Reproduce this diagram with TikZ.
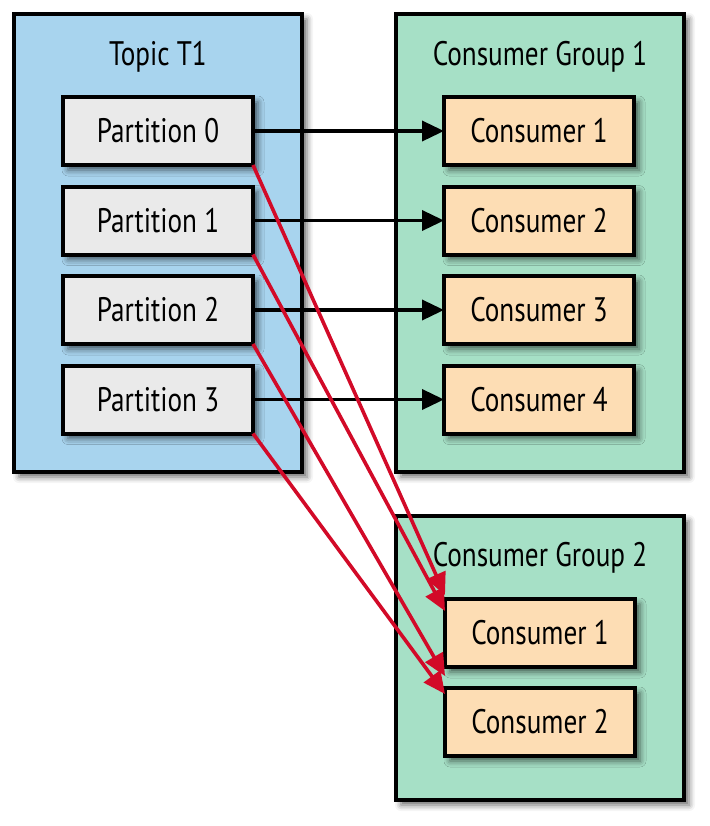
\documentclass[tikz,border=0pt]{standalone}
\usepackage{fontspec}
\setmainfont[FakeStretch=0.8]{PT Sans}
\usetikzlibrary{positioning,arrows.meta,shadows.blur}

\definecolor{topicblue}{RGB}{168,212,238}
\definecolor{groupgreen}{RGB}{166,224,198}
\definecolor{partgray}{RGB}{234,234,234}
\definecolor{consorange}{RGB}{253,221,180}
\definecolor{arrowred}{RGB}{210,10,40}

\begin{document}
\begin{tikzpicture}[
      x=1pt, y=1pt,
      shade/.style={blur shadow={shadow xshift=2.5pt,shadow yshift=-2.5pt,shadow blur radius=3pt,shadow opacity=60}},
      box/.style={draw, rectangle, line width=2pt, outer sep=0pt, minimum width=95pt, minimum height=34pt, shade},
      part/.style={box, fill=partgray},
      cons/.style={box, fill=consorange},
      group/.style={draw, rectangle, line width=2pt, outer sep=0pt, minimum width=144pt, shade},
      clear/.style={draw=none, fill=none, align=center},
      every node/.style={font=\fontsize{17}{20}\selectfont},
      every edge/.style={draw, -{Triangle[length=11pt,width=10pt]}, line width=1.8pt}
   ]
      \useasboundingbox (0,0) rectangle (355,-413);

      % boxes round the partitions and consumers
      \node[group, fill=topicblue, minimum height=229pt] (T) at (79,-121.5) {};
      \node[group, fill=groupgreen, minimum height=229pt, right=47pt of T] (G1) {};
      \node[group, fill=groupgreen, minimum height=142pt, below=22pt of G1] (G2) {};

      \node[clear] (TT) at ([yshift=-21.5pt]T.north) {Topic T1};
      \node[clear] (G1T) at ([yshift=-21.5pt]G1.north) {Consumer Group 1};
      \node[clear] (G2T) at ([yshift=-21pt]G2.north) {Consumer Group 2};

      % partitions
      \node[part] (P0) at (79,-65.5) {Partition 0};
      \node[part, below=10.75pt of P0] (P1) {Partition 1};
      \node[part, below=10.75pt of P1] (P2) {Partition 2};
      \node[part, below=10.75pt of P2] (P3) {Partition 3};

      % consumer group 1
      \node[cons, right=95.5pt of P0] (C1) {Consumer 1};
      \node[cons, right=95.5pt of P1] (C2) {Consumer 2};
      \node[cons, right=95.5pt of P2] (C3) {Consumer 3};
      \node[cons, right=95.5pt of P3] (C4) {Consumer 4};

      % consumer group 2
      \node[cons, below=41.5pt of G2.north] (C21) {Consumer 1};
      \node[cons, below=10.5pt of C21] (C22) {Consumer 2};

      \path (P0) edge (C1);
      \path (P1) edge (C2);
      \path (P2) edge (C3);
      \path (P3) edge (C4);

      \begin{scope}[every edge/.append style={arrowred}]
         \path (P0.south east) edge ([yshift=2pt]C21.north west);
         \path (P1.south east) edge ([yshift=-6pt]C21.north west);
         \path (P2.south east) edge ([yshift=6pt]C22.north west);
         \path (P3.south east) edge ([yshift=-3pt]C22.north west);
      \end{scope}
   \end{tikzpicture}
\end{document}
